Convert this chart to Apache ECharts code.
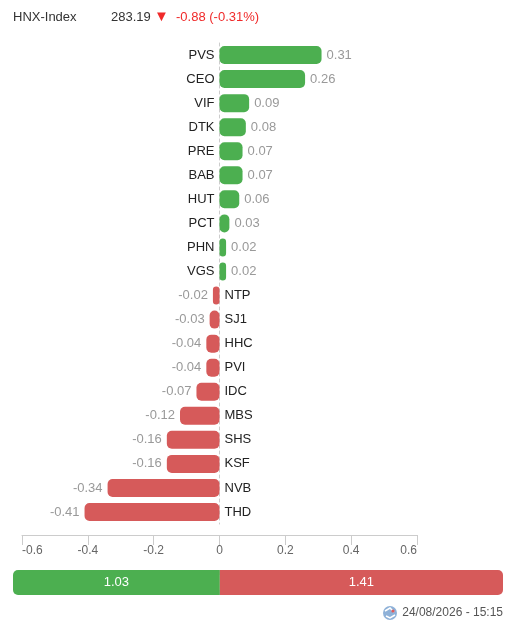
<!DOCTYPE html>
<html>
<head>
<meta charset="utf-8">
<script src="https://cdn.jsdelivr.net/npm/echarts@6/dist/echarts.min.js"></script>
<style>
  html, body { margin: 0; padding: 0; background: #fff; }
  #chart { width: 511px; height: 629px; }
</style>
</head>
<body>
<div id="chart"></div>
<script>
    // du lieu co phieu anh huong
    var stockCodes = ['PVS','CEO','VIF','DTK','PRE','BAB','HUT','PCT','PHN','VGS',
                      'NTP','SJ1','HHC','PVI','IDC','MBS','SHS','KSF','NVB','THD'];
    var stockValues = [0.31, 0.26, 0.09, 0.08, 0.07, 0.07, 0.06, 0.03, 0.02, 0.02,
                       -0.02, -0.03, -0.04, -0.04, -0.07, -0.12, -0.16, -0.16, -0.34, -0.41];
    var axisTicks = [-0.6, -0.4, -0.2, 0, 0.2, 0.4, 0.6];
    var totalUp = [1.03];
    var totalDown = [1.41];
    var indexInfo = ['HNX-Index', '283.19', '-0.88 (-0.31%)'];
    var updateTime = '24/08/2026 - 15:15';

    var green = '#4caf50';
    var red = '#d65a5a';
    var font = 'Arial, "Liberation Sans", sans-serif';

    var barData = [];
    var nameData = [];
    for (var i = 0; i < stockValues.length; i++) {
        var up = stockValues[i] >= 0;
        barData.push({
            value: stockValues[i],
            itemStyle: { color: up ? green : red },
            label: { position: up ? 'right' : 'left' }
        });
        nameData.push({
            value: 0,
            label: { position: up ? 'left' : 'right' }
        });
    }

    var myChart = echarts.init(document.getElementById('chart'));

    var option = {
        animation: false,
        graphic: [
            { type: 'text', left: 13, top: 11, style: { text: indexInfo[0], font: '13px ' + font, fill: '#333' } },
            { type: 'text', left: 111, top: 11, style: { text: indexInfo[1], font: '13px ' + font, fill: '#333' } },
            { type: 'text', left: 154, top: 9, style: { text: '\u25BC', font: '15px ' + font, fill: '#f02a2a' } },
            { type: 'text', left: 176, top: 11, style: { text: indexInfo[2], font: '13px ' + font, fill: '#f02a2a' } },
            { type: 'circle', shape: { cx: 390, cy: 613, r: 7 }, style: { fill: '#8eb1d8' } },
            { type: 'polyline', shape: { points: [[385, 611], [390, 608], [394, 612]] }, style: { stroke: '#fff', lineWidth: 1.5, fill: null } },
            { type: 'polyline', shape: { points: [[386, 616], [390, 618], [395, 615]] }, style: { stroke: '#fff', lineWidth: 1.5, fill: null } },
            { type: 'circle', shape: { cx: 393, cy: 611, r: 1.6 }, style: { fill: '#e05a5a' } },
            { type: 'text', right: 8, top: 607, style: { text: updateTime, font: '12px ' + font, fill: '#555' } }
        ],
        grid: [
            { left: 22, right: 94, top: 43, height: 481 },
            { left: 13, right: 8, top: 570, height: 25 }
        ],
        xAxis: [
            {
                gridIndex: 0,
                type: 'value',
                min: axisTicks[0],
                max: axisTicks[axisTicks.length - 1],
                interval: 0.2,
                offset: 11,
                axisLine: { show: true, lineStyle: { color: '#ccc' } },
                axisTick: { show: true, length: 10, lineStyle: { color: '#ccc' } },
                splitLine: { show: false },
                axisLabel: {
                    color: '#666', fontSize: 12, fontFamily: font, margin: 10,
                    alignMinLabel: 'left', alignMaxLabel: 'right',
                    formatter: function (v) { return String(Math.round(v * 10) / 10); }
                }
            },
            {
                gridIndex: 1,
                type: 'value',
                min: 0,
                max: totalUp[0] + totalDown[0],
                show: false
            }
        ],
        yAxis: [
            {
                gridIndex: 0,
                type: 'category',
                inverse: true,
                data: stockCodes,
                axisLine: { show: true, onZero: true, lineStyle: { color: '#ccc', type: [3, 3] } },
                axisTick: { show: false },
                axisLabel: { show: false }
            },
            {
                gridIndex: 1,
                type: 'category',
                data: ['total'],
                show: false
            }
        ],
        series: [
            {
                type: 'bar',
                xAxisIndex: 0,
                yAxisIndex: 0,
                barWidth: 18,
                barGap: '-100%',
                itemStyle: { borderRadius: 5 },
                label: { show: true, distance: 5, color: '#999', fontSize: 13, fontFamily: font },
                data: barData
            },
            {
                type: 'bar',
                xAxisIndex: 0,
                yAxisIndex: 0,
                barWidth: 18,
                barGap: '-100%',
                silent: true,
                itemStyle: { color: 'transparent' },
                label: {
                    show: true, distance: 5, color: '#222', fontSize: 13, fontFamily: font,
                    formatter: function (p) { return stockCodes[p.dataIndex]; }
                },
                data: nameData
            },
            {
                type: 'bar',
                xAxisIndex: 1,
                yAxisIndex: 1,
                stack: 'total',
                barWidth: 25,
                itemStyle: { color: green, borderRadius: [5, 0, 0, 5] },
                label: { show: true, position: 'inside', color: '#fff', fontSize: 13, fontFamily: font },
                data: totalUp
            },
            {
                type: 'bar',
                xAxisIndex: 1,
                yAxisIndex: 1,
                stack: 'total',
                barWidth: 25,
                itemStyle: { color: red, borderRadius: [0, 5, 5, 0] },
                label: { show: true, position: 'inside', color: '#fff', fontSize: 13, fontFamily: font },
                data: totalDown
            }
        ]
    };
    myChart.setOption(option);
</script>
</body>
</html>
